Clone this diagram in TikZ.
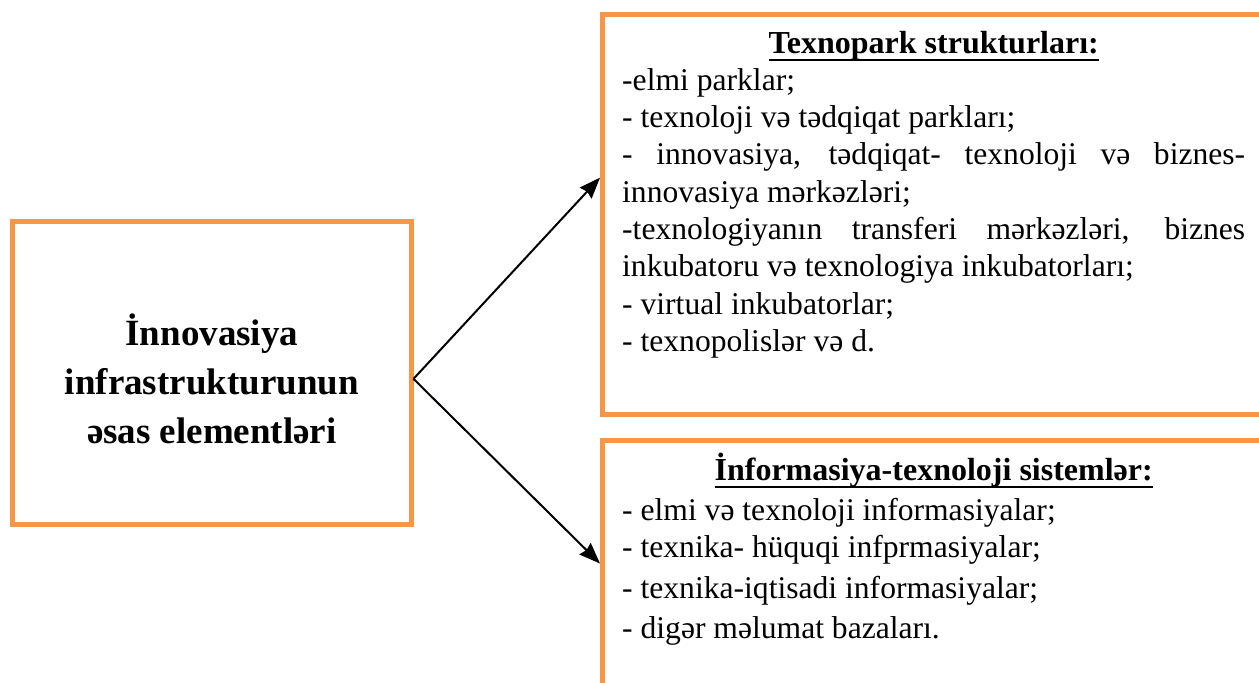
\documentclass[tikz,border=0pt]{standalone}
\usepackage{fontspec}
\setmainfont{Liberation Serif}
\usepackage{xcolor}
\usetikzlibrary{arrows.meta}
\definecolor{boxorange}{HTML}{F79646}
\newcommand{\headline}[1]{\setbox0=\hbox{\fontsize{32}{32}\selectfont\bfseries #1}%
  \rlap{\rule[-8.2pt]{\wd0}{2.4pt}}\box0}
\newcommand{\listsetup}{\fontsize{31.6}{37.3}\selectfont\tolerance=10000
  \hyphenpenalty=10000 \exhyphenpenalty=10000 \parindent=0pt}

\begin{document}
\begin{tikzpicture}[x=1pt,y=-1pt,
    box/.style={draw=boxorange, line width=5pt},
    listtext/.style={anchor=base west, inner sep=0pt, text width=623pt,
      align=justify, font=\listsetup},
    >={Stealth[length=21pt,width=16pt,inset=2pt]}]

  \useasboundingbox (0,0) rectangle (1259,683);
  \clip (0,0) rectangle (1259,683);

  % left box
  \node[box, minimum width=398.3pt, minimum height=302.3pt, align=center,
    font=\fontsize{37}{49}\selectfont\bfseries] (main) at (211.85,372.85)
    {\rule{0pt}{44pt}İnnovasiya\\ infrastrukturunun\\ əsas elementləri};

  % right boxes, cut by the page edge
  \node[box, minimum width=700pt, minimum height=399.7pt, anchor=north west]
    (parks) at (600,12.3) {};
  \node[box, minimum width=700pt, minimum height=300pt, anchor=north west]
    (info) at (600,438) {};

  \node[listtext] (parkslist) at (622,53) {%
    \centerline{\headline{Texnopark strukturları:}}
    \noindent -elmi parklar;\\
    - texnoloji və tədqiqat parkları;\\
    - innovasiya, tədqiqat- texnoloji və biznes-\linebreak
    innovasiya mərkəzləri;\\
    -texnologiyanın transferi mərkəzləri, biznes\linebreak
    inkubatoru və texnologiya inkubatorları;\\
    - virtual inkubatorlar;\\
    - texnopolislər və d.};

  \node[listtext, font=\listsetup\fontsize{31.6}{40.5}\selectfont]
    (infolist) at (622,480) {%
    \centerline{\headline{İnformasiya-texnoloji sistemlər:}}
    \vspace{-3.5pt}
    \noindent - elmi və texnoloji informasiyalar;\\
    - texnika- hüquqi infprmasiyalar;\\
    - texnika-iqtisadi informasiyalar;\\
    - digər məlumat bazaları.};

  \draw[->, line width=2pt] ([yshift=-6pt]main.east) -- ([yshift=37pt]parks.west);
  \draw[->, line width=2pt] ([yshift=-6pt]main.east) -- ([yshift=27pt]info.west);
\end{tikzpicture}
\end{document}
